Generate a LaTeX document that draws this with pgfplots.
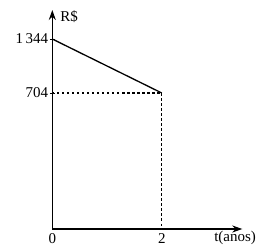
\documentclass[border=0pt]{standalone}
\usepackage{pgfplots}
\pgfplotsset{compat=1.18}
\usepackage{fontspec}
\setmainfont{Liberation Serif}
\usetikzlibrary{arrows.meta}
\begin{document}
\begin{tikzpicture}[x=1pt,y=1pt,font=\fontsize{15}{17}\selectfont]
\begin{axis}[
  at={(0,0)}, anchor=south west,
  scale only axis, width=190pt, height=219pt,
  xmin=0, xmax=3.47, ymin=-908, ymax=1688,
  axis lines=left,
  axis line style={line width=1.3pt},
  x axis line style={-{Stealth[length=10pt,width=7pt]}},
  y axis line style={-{Stealth[length=10pt,width=7pt]}},
  xtick={0,2}, xticklabels={0,2},
  ytick={704,1344}, yticklabels={704,1\,344},
  tick align=center, major tick length=5pt,
  tick style={line width=1pt, black},
  xtick style={draw=none},
  tick label style={font=\fontsize{15}{17}\selectfont},
  label style={font=\fontsize{15}{17}\selectfont},
  /pgf/number format/assume math mode=true,
  xticklabel style={inner sep=2pt},
  yticklabel style={inner sep=1.5pt},
  clip=false,
  xlabel={t(anos)},
  xlabel style={at={(rel axis cs:0.962,0)}, anchor=north, inner sep=2pt},
  ylabel={R\$},
  ylabel style={at={(rel axis cs:0.042,0.968)}, anchor=west, rotate=-90, inner sep=0pt},
]
\addplot[black, line width=1.3pt] coordinates {(0,1344) (2,704)};
\addplot[black, line width=1.3pt, dash pattern=on 2.2pt off 2.8pt] coordinates {(0,704) (2,704) (2,-908)};
\end{axis}
\pgfresetboundingbox
\path[use as bounding box] (-52.3,-20) rectangle (204.7,229);
\end{tikzpicture}
\end{document}
